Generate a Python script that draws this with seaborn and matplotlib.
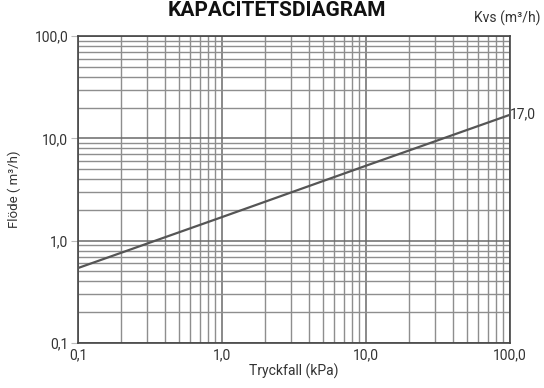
import matplotlib
matplotlib.use("Agg")
import matplotlib.pyplot as plt
import matplotlib.ticker as mticker
import seaborn as sns
import pandas as pd

# Data
pressure_kpa = [0.1, 1.0, 10.0, 100.0]
flow_m3h = [0.54, 1.7, 5.4, 17.0]
kvs_label = "17,0"
tick_vals = [0.1, 1.0, 10.0, 100.0]
tick_labels = ["0,1", "1,0", "10,0", "100,0"]

sns.set_theme(style="white")
plt.rcParams['font.family'] = ['Roboto', 'DejaVu Sans']

fig = plt.figure(figsize=(5.44, 3.88), dpi=100)
ax = fig.add_axes([0.1434, 0.116, 0.9375 - 0.1434, 0.9072 - 0.116])

df = pd.DataFrame({"dp": pressure_kpa, "q": flow_m3h})
sns.lineplot(data=df, x="dp", y="q", ax=ax, color="#555555", linewidth=1.6, zorder=3)

ax.set_xscale("log")
ax.set_yscale("log")
ax.set_xlim(0.1, 100)
ax.set_ylim(0.1, 100)

ax.xaxis.set_major_locator(mticker.FixedLocator(tick_vals))
ax.yaxis.set_major_locator(mticker.FixedLocator(tick_vals))
ax.xaxis.set_major_formatter(mticker.FixedFormatter(tick_labels))
ax.yaxis.set_major_formatter(mticker.FixedFormatter(tick_labels))
ax.xaxis.set_minor_locator(mticker.LogLocator(base=10, subs=range(2, 10), numticks=20))
ax.yaxis.set_minor_locator(mticker.LogLocator(base=10, subs=range(2, 10), numticks=20))
ax.xaxis.set_minor_formatter(mticker.NullFormatter())
ax.yaxis.set_minor_formatter(mticker.NullFormatter())

ax.grid(True, which="major", color="#6a6a6a", linewidth=1.1)
ax.grid(True, which="minor", color="#8e8e8e", linewidth=1.0)
ax.set_axisbelow(True)

for s in ax.spines.values():
    s.set_color("#444444")
    s.set_linewidth(1.2)

ax.tick_params(axis="y", which="major", length=5, width=0.8, color="#bbbbbb",
               labelsize=10, labelcolor="#333333", left=True, pad=2)
ax.tick_params(axis="x", which="major", length=0, labelsize=10,
               labelcolor="#333333", bottom=True, pad=4)
ax.tick_params(which="minor", length=0)

ax.set_xlabel("Tryckfall (kPa)", fontsize=10, color="#333333", labelpad=1)
ax.set_ylabel("Flöde ( m³/h)", fontsize=9.5, color="#333333", labelpad=10)

ax.text(100, flow_m3h[-1], kvs_label, fontsize=10, color="#333333",
        ha="left", va="center", transform=ax.transData)

fig.text(0.994, 1 - 18 / 388, "Kvs (m³/h)", fontsize=10, color="#333333",
         ha="right", va="center")
fig.text(0.509, 1 - 16 / 388, "KAPACITETSDIAGRAM", fontsize=15, fontweight="bold",
         color="#111111", ha="center", va="baseline")

fig.savefig("out.png", dpi=100)
